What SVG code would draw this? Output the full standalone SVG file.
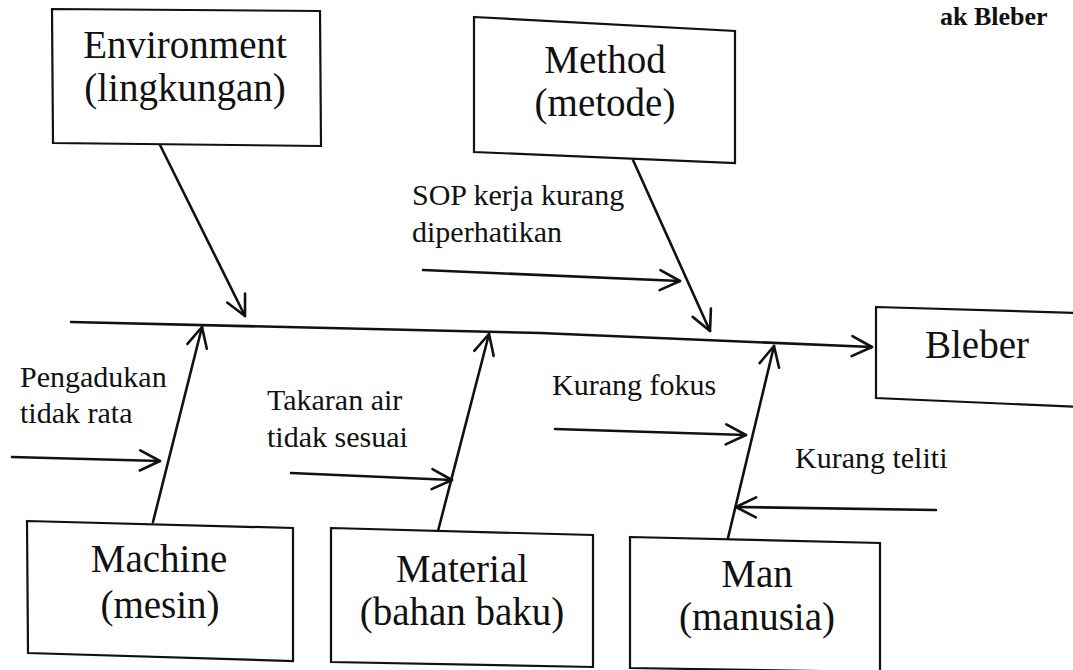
<svg xmlns="http://www.w3.org/2000/svg" width="1073" height="670" viewBox="0 0 1073 670">
<style>
text{font-family:'Liberation Serif','Times New Roman',Times,serif;fill:#111}
.box{fill:#fff;stroke:#111;stroke-width:2.2;stroke-linejoin:miter}
.big{font-size:39px;text-anchor:middle}
.sm{font-size:30px}
.ln{fill:none;stroke:#111;stroke-width:2.6;stroke-linecap:round}
.ttl{font-size:26px;font-weight:bold}
</style>
<defs>
<marker id="ah" markerWidth="30" markerHeight="30" viewBox="-25 -15 30 30" refX="0" refY="0" orient="auto" markerUnits="userSpaceOnUse">
<path d="M-20,-10 L0,0 L-20,10" fill="none" stroke="#111" stroke-width="2.6" stroke-linecap="round" stroke-linejoin="round"/>
</marker>
</defs>
<rect x="0" y="0" width="1073" height="670" fill="#fff"/>
<text class="ttl" x="940" y="25">ak Bleber</text>

<g id="connectors">
<path class="ln" d="M71,322 L540,333 L872,347" marker-end="url(#ah)"/>
<line class="ln" x1="160" y1="145" x2="245" y2="316" marker-end="url(#ah)"/>
<line class="ln" x1="633" y1="160" x2="710" y2="331" marker-end="url(#ah)"/>
<line class="ln" x1="423" y1="270" x2="680" y2="281" marker-end="url(#ah)"/>
<line class="ln" x1="153" y1="522" x2="202" y2="327" marker-end="url(#ah)"/>
<line class="ln" x1="438" y1="531" x2="489" y2="334" marker-end="url(#ah)"/>
<line class="ln" x1="728" y1="538" x2="774" y2="346" marker-end="url(#ah)"/>
<line class="ln" x1="12" y1="457" x2="160" y2="461" marker-end="url(#ah)"/>
<line class="ln" x1="291" y1="473" x2="452" y2="480" marker-end="url(#ah)"/>
<line class="ln" x1="555" y1="429" x2="746" y2="435" marker-end="url(#ah)"/>
<line class="ln" x1="936" y1="510" x2="736" y2="507" marker-end="url(#ah)"/>
</g>

<g id="labels">
<text class="sm" x="20" y="387">Pengadukan</text>
<text class="sm" x="20" y="423">tidak rata</text>
<text class="sm" x="267" y="410">Takaran air</text>
<text class="sm" x="267" y="447">tidak sesuai</text>
<text class="sm" x="412" y="205">SOP kerja kurang</text>
<text class="sm" x="412" y="242">diperhatikan</text>
<text class="sm" x="552" y="395">Kurang fokus</text>
<text class="sm" x="795" y="468">Kurang teliti</text>
</g>

<g id="environment">
<polygon class="box" points="52,9 320,11 321,146 53,143"/>
<text class="big" x="185" y="58">Environment</text>
<text class="big" x="185" y="101">(lingkungan)</text>
</g>

<g id="method">
<polygon class="box" points="474,17 735,31 735,163 474,152"/>
<text class="big" x="605" y="73">Method</text>
<text class="big" x="605" y="116">(metode)</text>
</g>

<g id="bleber">
<polygon class="box" points="876,307 1080,313 1080,407 876,398"/>
<text class="big" x="977" y="358">Bleber</text>
</g>

<g id="machine">
<polygon class="box" points="27,521 293,528 293,661 28,653"/>
<text class="big" x="159" y="572">Machine</text>
<text class="big" x="160" y="618">(mesin)</text>
</g>

<g id="material">
<polygon class="box" points="331,528 593,535 593,667 331,662"/>
<text class="big" x="462" y="582">Material</text>
<text class="big" x="462" y="625">(bahan baku)</text>
</g>

<g id="man">
<polygon class="box" points="630,537 880,543 880,672 630,668"/>
<text class="big" x="757" y="587">Man</text>
<text class="big" x="757" y="630">(manusia)</text>
</g>
</svg>
